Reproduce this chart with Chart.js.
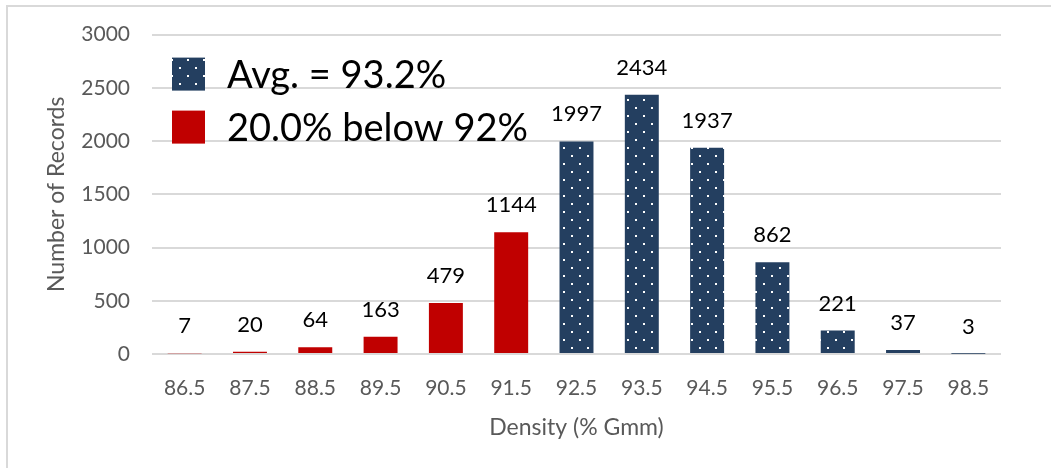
<!DOCTYPE html>
<html>
<head>
<meta charset="utf-8">
<script src="https://cdn.jsdelivr.net/npm/chart.js@4.4.1/dist/chart.umd.min.js"></script>
<style>
    html, body { margin: 0; padding: 0; background: #ffffff; overflow: hidden; }
    .frame {
        position: absolute;
        left: 6px;
        top: 5px;
        width: 1100px;
        height: 500px;
        border: 2px solid #d9d9d9;
    }
    .wrap { position: absolute; left: 0; top: 0; width: 1051px; height: 468px; }
</style>
</head>
<body>
<div class="frame"></div>
<div class="wrap"><canvas id="chart" width="1051" height="468"></canvas></div>
<script>
// density bins (% Gmm) and record counts
const categories = ["86.5", "87.5", "88.5", "89.5", "90.5", "91.5", "92.5", "93.5", "94.5", "95.5", "96.5", "97.5", "98.5"];
const counts = [7, 20, 64, 163, 479, 1144, 1997, 2434, 1937, 862, 221, 37, 3];
const belowBins = 6; // first six bins are below 92%
const legendLabels = ["Avg. = 93.2%", "20.0% below 92%"];
const yTicks = [0, 500, 1000, 1500, 2000, 2500, 3000];

const NAVY = "#243f60";
const RED = "#c00000";
const FONT = "Lato";

// dotted navy fill
function makeDots() {
    const c = document.createElement("canvas");
    c.width = 16;
    c.height = 16;
    const g = c.getContext("2d");
    g.fillStyle = NAVY;
    g.fillRect(0, 0, 16, 16);
    g.fillStyle = "#ffffff";
    g.fillRect(3, 3, 2, 2);
    g.fillRect(11, 11, 2, 2);
    return g.createPattern(c, "repeat");
}
const dots = makeDots();

const aboveData = counts.map((v, i) => i >= belowBins ? v : null);
const belowData = counts.map((v, i) => i < belowBins ? v : null);

// value labels over each bar
const barLabels = {
    id: "barLabels",
    afterDatasetsDraw(chart) {
        const ctx = chart.ctx;
        ctx.save();
        ctx.font = "22px " + FONT;
        ctx.fillStyle = "#000000";
        ctx.textAlign = "center";
        ctx.textBaseline = "middle";
        chart.data.datasets.forEach((ds, di) => {
            const meta = chart.getDatasetMeta(di);
            meta.data.forEach((bar, i) => {
                if (ds.data[i] == null) return;
                ctx.fillText(String(ds.data[i]), bar.x, bar.y - 27);
            });
        });
        ctx.restore();
    }
};

// legend sits inside the plot, top left
const boxLegend = {
    id: "boxLegend",
    afterDraw(chart) {
        const ctx = chart.ctx;
        const area = chart.chartArea;
        const x = area.left + 20;
        let y = area.top + 23;
        ctx.save();
        ctx.font = "38px " + FONT;
        ctx.textBaseline = "middle";
        chart.data.datasets.forEach(ds => {
            ctx.fillStyle = ds.backgroundColor;
            ctx.fillRect(x, y, 33, 33);
            ctx.fillStyle = "#000000";
            ctx.fillText(ds.label, x + 55, y + 18);
            y += 53;
        });
        ctx.restore();
    }
};

new Chart(document.getElementById("chart"), {
    type: "bar",
    data: {
        labels: categories,
        datasets: [
            { label: legendLabels[0], data: aboveData, backgroundColor: dots, borderWidth: 0 },
            { label: legendLabels[1], data: belowData, backgroundColor: RED, borderWidth: 0 }
        ]
    },
    options: {
        responsive: false,
        animation: false,
        layout: { padding: { left: 0, right: 50, top: 34, bottom: 0 } },
        datasets: {
            bar: { barPercentage: 0.52, categoryPercentage: 1 }
        },
        plugins: {
            legend: { display: false },
            tooltip: { enabled: false }
        },
        scales: {
            x: {
                stacked: true,
                grid: { display: false, drawTicks: false },
                border: { display: false },
                ticks: { color: "#595959", font: { family: FONT, size: 21 }, padding: 22 },
                title: {
                    display: true,
                    text: "Density (% Gmm)",
                    color: "#595959",
                    font: { family: FONT, size: 23 },
                    padding: { top: 0, bottom: 27 }
                },
                afterFit(scale) { scale.height = 114; }
            },
            y: {
                stacked: true,
                min: 0,
                max: 3000,
                afterBuildTicks(scale) { scale.ticks = yTicks.map(v => ({ value: v })); },
                grid: { color: "#d9d9d9", lineWidth: 2, drawTicks: false },
                border: { display: false },
                ticks: {
                    color: "#595959",
                    font: { family: FONT, size: 21 },
                    padding: 22,
                    callback: v => String(v)
                },
                title: {
                    display: true,
                    text: "Number of Records",
                    color: "#595959",
                    font: { family: FONT, size: 23 },
                    padding: { top: 43, bottom: 0 }
                },
                afterFit(scale) { scale.width = 152; }
            }
        }
    },
    plugins: [barLabels, boxLegend]
});
</script>
</body>
</html>
